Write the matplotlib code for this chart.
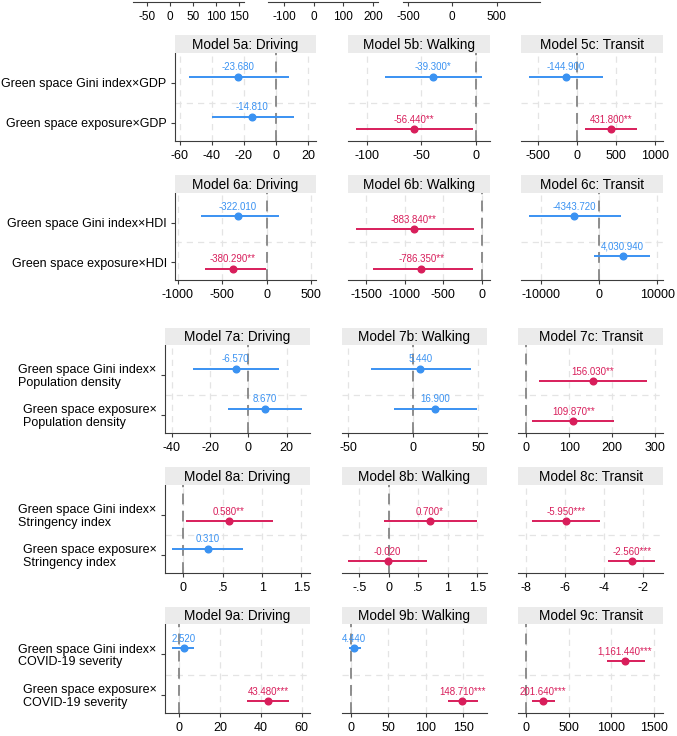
import matplotlib
matplotlib.use('Agg')
import matplotlib.pyplot as plt

plt.rcParams['font.family'] = ['Liberation Sans', 'DejaVu Sans']

W, H = 677, 736
fig = plt.figure(figsize=(W / 100, H / 100), dpi=100)

BLUE = '#3a92f2'
RED = '#d81e5b'
GRID = '#e4e4e4'
SPINE = '#3c3c3c'

modes = ['Driving', 'Walking', 'Transit']
letters = ['a', 'b', 'c']

# ---- data ----
labels_5 = ['Green space Gini index×GDP', 'Green space exposure×GDP']
coef_5 = [[-23.68, -14.81], [-39.30, -56.44], [-144.9, 431.8]]
lo_5 = [[-54.4, -40.2], [-83.2, -109.8], [-615, 99]]
hi_5 = [[8.0, 11.1], [5.8, -2.2], [325, 769]]
text_5 = [['-23.680', '-14.810'], ['-39.300*', '-56.440**'], ['-144.900', '431.800**']]
sig_5 = [[0, 0], [0, 1], [0, 1]]

labels_6 = ['Green space Gini index×HDI', 'Green space exposure×HDI']
coef_6 = [[-322.01, -380.29], [-883.84, -786.35], [-4343.72, 4030.94]]
lo_6 = [[-733, -697], [-1632, -1416], [-12069, -914]]
hi_6 = [[137, -3], [-96, -117], [3741, 8741]]
text_6 = [['-322.010', '-380.290**'], ['-883.840**', '-786.350**'], ['-4343.720', '4,030.940']]
sig_6 = [[0, 1], [1, 1], [0, 0]]

labels_7 = ['Green space Gini index×\nPopulation density', 'Green space exposure×\nPopulation density']
coef_7 = [[-6.57, 8.67], [5.44, 16.90], [156.03, 109.87]]
lo_7 = [[-28.7, -10.4], [-32.5, -14.8], [30, 15]]
hi_7 = [[16.2, 27.9], [44.2, 49.2], [282, 205]]
text_7 = [['-6.570', '8.670'], ['5.440', '16.900'], ['156.030**', '109.870**']]
sig_7 = [[0, 0], [0, 0], [1, 1]]

labels_8 = ['Green space Gini index×\nStringency index', 'Green space exposure×\nStringency index']
coef_8 = [[0.58, 0.31], [0.70, -0.02], [-5.95, -2.56]]
lo_8 = [[0.03, -0.14], [-0.085, -0.69], [-7.7, -3.8]]
hi_8 = [[1.135, 0.76], [1.50, 0.64], [-4.2, -1.4]]
text_8 = [['0.580**', '0.310'], ['0.700*', '-0.020'], ['-5.950***', '-2.560***']]
sig_8 = [[1, 0], [1, 1], [1, 1]]

labels_9 = ['Green space Gini index×\nCOVID-19 severity', 'Green space exposure×\nCOVID-19 severity']
coef_9 = [[2.52, 43.48], [4.44, 148.71], [1161.44, 201.64]]
lo_9 = [[-3.3, 33.1], [-2.3, 130], [953, 67]]
hi_9 = [[7.5, 53.9], [13, 170], [1395, 340]]
text_9 = [['2.520', '43.480***'], ['4.440', '148.710***'], ['1,161.440***', '201.640***']]
sig_9 = [[0, 1], [0, 1], [1, 1]]

# axis ranges and ticks per panel
xlim_5 = [(-63, 25), (-117, 13), (-722, 1099)]
ticks_5 = [[-60, -40, -20, 0, 20], [-100, -50, 0], [-500, 0, 500, 1000]]
xlim_6 = [(-1030, 555), (-1736, 108), (-13500, 10980)]
ticks_6 = [[-1000, -500, 0, 500], [-1500, -1000, -500, 0], [-10000, 0, 10000]]
xlim_7 = [(-43.5, 32.2), (-55, 56.5), (-18, 319)]
ticks_7 = [[-40, -20, 0, 20], [-50, 0, 50], [0, 100, 200, 300]]
xlim_8 = [(-0.232, 1.608), (-0.80, 1.66), (-8.41, -0.96)]
ticks_8 = [[0, 0.5, 1, 1.5], [-0.5, 0, 0.5, 1, 1.5], [-8, -6, -4, -2]]
xlim_9 = [(-6.8, 64), (-12.4, 181), (-90, 1609)]
ticks_9 = [[0, 20, 40, 60], [0, 50, 100, 150], [0, 500, 1000, 1500]]

# partial row cut at the top edge (only its x axes are visible)
xlim_top = [(-80, 161), (-155, 217), (-556, 989)]
ticks_top = [[-50, 0, 50, 100, 150], [-100, 0, 100, 200], [-500, 0, 500]]


def fmt(v):
    s = f'{v:g}'
    if s.startswith('0.'):
        s = s[1:]
    elif s.startswith('-0.'):
        s = '-' + s[2:]
    return s


def px_axes(l, t, r, b):
    return fig.add_axes([l / W, 1 - b / H, (r - l) / W, (b - t) / H])


def style_x(ax, lim, ticks, size=9):
    ax.set_xlim(*lim)
    ax.set_xticks(ticks)
    ax.set_xticklabels([fmt(t) for t in ticks])
    ax.tick_params(axis='x', length=3, width=0.8, color=SPINE, labelsize=size, pad=3.5)
    ax.spines['bottom'].set_color(SPINE)


def draw_panel(box, strip_top, title, lim, ticks, coefs, los, his, texts, sigs, ylabels):
    l, t, r, b = box
    ax = px_axes(l, t, r, b)
    for s in ['top', 'right']:
        ax.spines[s].set_visible(False)
    style_x(ax, lim, ticks)
    ax.set_ylim(2.45, 0.25)
    ax.grid(axis='x', ls=(0, (5, 4)), color=GRID, lw=0.9)
    ax.axhline(1.5, ls=(0, (5, 4)), color=GRID, lw=0.9)
    ax.axvline(0, color='#858585', ls=(0, (6, 3.5)), lw=1.3, zorder=2)
    ax.set_axisbelow(True)
    for i in range(2):
        c = RED if sigs[i] else BLUE
        y = i + 1 + (0.16 if sigs[i] else -0.16)
        ax.plot([los[i], his[i]], [y, y], color=c, lw=1.4, zorder=3, solid_capstyle='butt')
        ax.plot(coefs[i], y, 'o', color=c, ms=4.8, zorder=4)
        ax.annotate(texts[i], (coefs[i], y), xytext=(0, 3), textcoords='offset points',
                    ha='center', va='bottom', color=c, fontsize=7, zorder=5)
    if ylabels is None:
        ax.spines['left'].set_visible(False)
        ax.set_yticks([])
    else:
        ax.spines['left'].set_color(SPINE)
        ax.set_yticks([1, 2])
        ax.set_yticklabels(ylabels, multialignment='left', linespacing=1.05)
        ax.tick_params(axis='y', length=3, width=0.8, color=SPINE, labelsize=9, pad=3)
    st = px_axes(l, strip_top, r, t)
    st.set_facecolor('#ebebeb')
    for s in st.spines.values():
        s.set_visible(False)
    st.set_xticks([])
    st.set_yticks([])
    st.text(0.5, 0.45, title, ha='center', va='center', fontsize=9.8, transform=st.transAxes)
    return ax


# top partial row
top_cols = [(133, 244), (268, 378), (403, 540)]
for j, (l, r) in enumerate(top_cols):
    ax = px_axes(l, -40, r, 2)
    for s in ['top', 'right', 'left']:
        ax.spines[s].set_visible(False)
    ax.set_yticks([])
    ax.patch.set_visible(False)
    style_x(ax, xlim_top[j], ticks_top[j], size=8.5)

cols_a = [(175, 316), (348, 490), (521, 663)]
cols_b = [(165, 310), (341.7, 486.7), (518.3, 663.3)]

rows = [
    ('5', cols_a, 35, 53, 141, xlim_5, ticks_5, coef_5, lo_5, hi_5, text_5, sig_5, labels_5),
    ('6', cols_a, 175, 193, 280, xlim_6, ticks_6, coef_6, lo_6, hi_6, text_6, sig_6, labels_6),
    ('7', cols_b, 328, 345, 433, xlim_7, ticks_7, coef_7, lo_7, hi_7, text_7, sig_7, labels_7),
    ('8', cols_b, 467, 485, 573, xlim_8, ticks_8, coef_8, lo_8, hi_8, text_8, sig_8, labels_8),
    ('9', cols_b, 607, 624, 713, xlim_9, ticks_9, coef_9, lo_9, hi_9, text_9, sig_9, labels_9),
]

for num, cols, st_top, top, bot, lims, tks, cf, lo, hi, tx, sg, ylab in rows:
    for j in range(3):
        l, r = cols[j]
        title = f'Model {num}{letters[j]}: {modes[j]}'
        draw_panel((l, top, r, bot), st_top, title, lims[j], tks[j], cf[j], lo[j], hi[j],
                   tx[j], sg[j], ylab if j == 0 else None)

fig.savefig('out.png', dpi=100)
